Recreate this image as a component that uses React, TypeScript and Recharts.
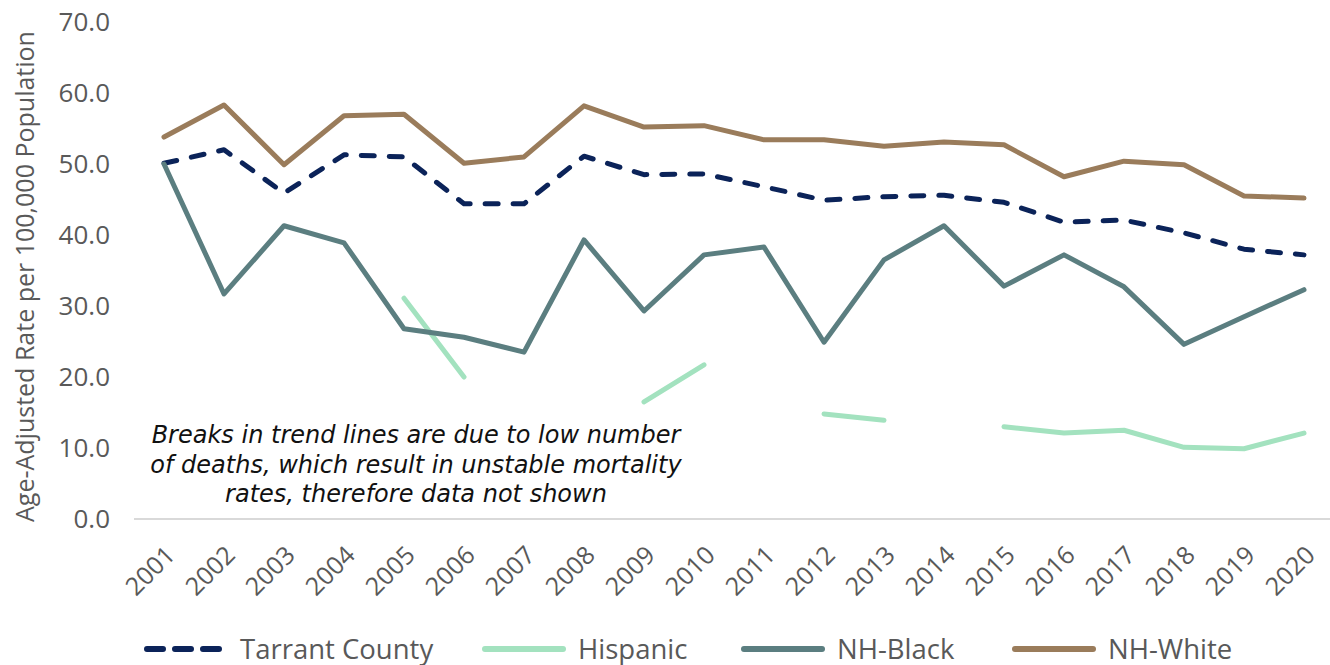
import { LineChart, Line, XAxis, YAxis, Label } from "recharts"

const years = [
  "2001", "2002", "2003", "2004", "2005", "2006", "2007", "2008", "2009", "2010",
  "2011", "2012", "2013", "2014", "2015", "2016", "2017", "2018", "2019", "2020",
]
const tarrant = [50.1, 52.0, 45.9, 51.3, 51.0, 44.4, 44.4, 51.1, 48.5, 48.6, 46.8, 44.9, 45.4, 45.6, 44.6, 41.8, 42.1, 40.3, 38.0, 37.2]
const hispanic = [null, null, null, null, 31.1, 20.0, null, null, 16.5, 21.7, null, 14.8, 13.9, null, 13.0, 12.1, 12.5, 10.1, 9.9, 12.1]
const nhBlack = [50.0, 31.7, 41.3, 38.9, 26.8, 25.6, 23.5, 39.3, 29.3, 37.2, 38.3, 24.9, 36.5, 41.3, 32.8, 37.2, 32.7, 24.6, 28.5, 32.3]
const nhWhite = [53.8, 58.3, 49.9, 56.8, 57.0, 50.1, 51.0, 58.2, 55.2, 55.4, 53.4, 53.4, 52.5, 53.1, 52.7, 48.2, 50.4, 49.9, 45.5, 45.2]
const yTicks = [0, 10, 20, 30, 40, 50, 60, 70]

const data = years.map((year, i) => ({
  year,
  tarrant: tarrant[i],
  hispanic: hispanic[i],
  nhBlack: nhBlack[i],
  nhWhite: nhWhite[i],
}))

const NAVY = "#0b2359"
const GREEN = "#a3e2bf"
const TEAL = "#5b7e80"
const BROWN = "#9a7c5b"
const GRAY = "#595959"
const FONT = "'Open Sans', sans-serif"

const legendItems = [
  { name: "Tarrant County", color: NAVY, dashed: true, left: 144 },
  { name: "Hispanic", color: GREEN, dashed: false, left: 482 },
  { name: "NH-Black", color: TEAL, dashed: false, left: 741 },
  { name: "NH-White", color: BROWN, dashed: false, left: 1012 },
]

function XTick({ x, y, payload }: any) {
  const tx = x
  const ty = y + 17
  return (
    <text
      x={tx}
      y={ty}
      dy="0.71em"
      textAnchor="end"
      transform={`rotate(-45 ${tx} ${ty})`}
      fill={GRAY}
      fontSize={25}
      fontFamily={FONT}
    >
      {payload.value}
    </text>
  )
}

function YTitle({ viewBox }: any) {
  const cx = 24
  const cy = viewBox.y + viewBox.height / 2 + 6
  return (
    <text
      x={cx}
      y={cy}
      transform={`rotate(-90 ${cx} ${cy})`}
      textAnchor="middle"
      dominantBaseline="central"
      fill={GRAY}
      fontSize={25}
      fontFamily={FONT}
    >
      Age-Adjusted Rate per 100,000 Population
    </text>
  )
}

export default function App() {
  return (
    <div style={{ position: "absolute", left: 0, top: 0, width: 1330, height: 665, background: "#fff" }}>
      <LineChart width={1330} height={665} data={data} margin={{ top: 22, right: 0, left: 0, bottom: 0 }}>
        <XAxis
          dataKey="year"
          height={146}
          interval={0}
          padding={{ left: 30, right: 26 }}
          tickLine={false}
          axisLine={{ stroke: "#d9d9d9", strokeWidth: 2 }}
          tick={<XTick />}
        />
        <YAxis
          width={134}
          domain={[0, 70]}
          ticks={yTicks}
          tickFormatter={(v: number) => v.toFixed(1)}
          axisLine={false}
          tickLine={false}
          tickMargin={18}
          tick={{ fill: GRAY, fontSize: 26, fontFamily: FONT }}
        >
          <Label content={<YTitle />} />
        </YAxis>
        <Line
          dataKey="tarrant"
          type="linear"
          stroke={NAVY}
          strokeWidth={5}
          strokeDasharray="13 15"
          strokeLinecap="round"
          strokeLinejoin="round"
          dot={false}
          isAnimationActive={false}
        />
        <Line
          dataKey="hispanic"
          type="linear"
          stroke={GREEN}
          strokeWidth={5}
          strokeLinecap="round"
          strokeLinejoin="round"
          dot={false}
          isAnimationActive={false}
        />
        <Line
          dataKey="nhBlack"
          type="linear"
          stroke={TEAL}
          strokeWidth={5}
          strokeLinecap="round"
          strokeLinejoin="round"
          dot={false}
          isAnimationActive={false}
        />
        <Line
          dataKey="nhWhite"
          type="linear"
          stroke={BROWN}
          strokeWidth={5}
          strokeLinecap="round"
          strokeLinejoin="round"
          dot={false}
          isAnimationActive={false}
        />
      </LineChart>

      {/* note about missing Hispanic years */}
      <div
        style={{
          position: "absolute",
          left: 66,
          top: 421,
          width: 700,
          textAlign: "center",
          fontFamily: "'DejaVu Sans', sans-serif",
          fontStyle: "italic",
          fontSize: 24,
          lineHeight: "29.5px",
          color: "#111",
        }}
      >
        Breaks in trend lines are due to low number
        <br />
        of deaths, which result in unstable mortality
        <br />
        rates, therefore data not shown
      </div>

      {legendItems.map((item) => (
        <div
          key={item.name}
          style={{
            position: "absolute",
            left: item.left,
            top: 630,
            display: "flex",
            alignItems: "center",
            fontFamily: FONT,
            fontSize: 27.5,
            color: GRAY,
            whiteSpace: "nowrap",
          }}
        >
          <svg width={84} height={10} style={{ marginRight: 12 }}>
            <line
              x1={3}
              y1={5}
              x2={81}
              y2={5}
              stroke={item.color}
              strokeWidth={6}
              strokeLinecap="round"
              strokeDasharray={item.dashed ? "16 12" : undefined}
            />
          </svg>
          <span style={{ lineHeight: "38px" }}>{item.name}</span>
        </div>
      ))}
    </div>
  )
}
